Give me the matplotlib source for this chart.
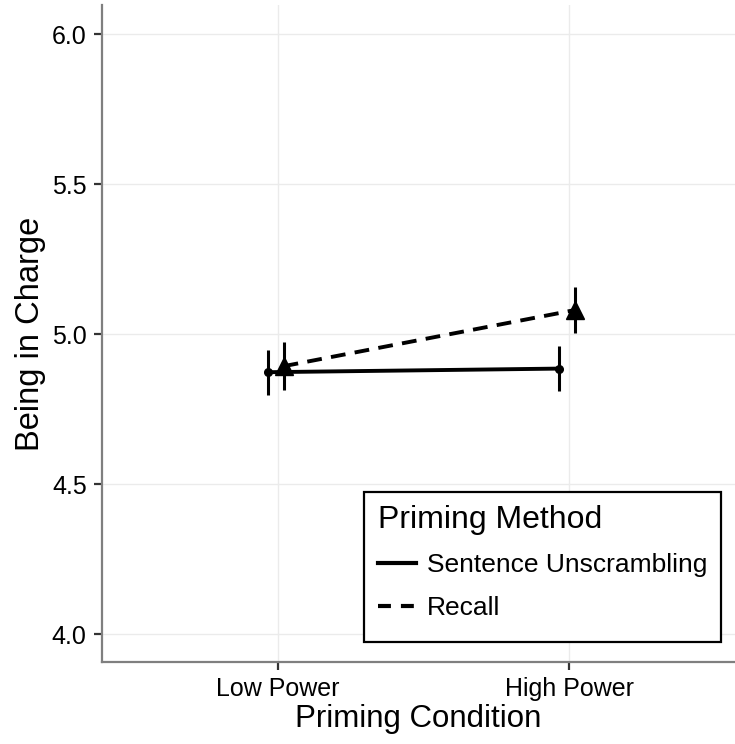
import numpy as np
import matplotlib
matplotlib.use('Agg')
import matplotlib.pyplot as plt
from matplotlib.lines import Line2D
from matplotlib.patches import Rectangle

plt.rcParams['font.family'] = ['Liberation Sans', 'DejaVu Sans']

# ── data ─────────────────────────────────────────────────────────────────────
conditions = ['Low Power', 'High Power']
methods    = ['Sentence Unscrambling', 'Recall']
su_mean    = [4.873, 4.885]
su_err     = [0.075, 0.075]
rc_mean    = [4.893, 5.080]
rc_err     = [0.080, 0.077]
y_ticks    = [4.0, 4.5, 5.0, 5.5, 6.0]

# ── figure ───────────────────────────────────────────────────────────────────
W, H = 735, 744
fig = plt.figure(figsize=(W / 100, H / 100), dpi=100)
ax = fig.add_axes([102 / W, 82 / H, 633 / W, 657 / H])

x = np.arange(1, len(conditions) + 1)
x_su = x - 0.036
x_rc = x + 0.019

ax.errorbar(x_su, su_mean, yerr=su_err, color='black', lw=2.8,
            elinewidth=2.2, capsize=0, marker='o', markersize=5.5,
            zorder=3)
ax.errorbar(x_rc, rc_mean, yerr=rc_err, color='black', lw=2.8,
            elinewidth=2.2, capsize=0, marker='^', markersize=13,
            dashes=(3.8, 2.4), zorder=3)

ax.set_xlim(0.395, 2.57)
ax.set_ylim(3.907, 6.097)
ax.set_xticks(x)
ax.set_xticklabels(conditions)
ax.set_yticks(y_ticks)
ax.set_yticklabels([f'{v:.1f}' for v in y_ticks])

ax.grid(True, color='#ebebeb', lw=1.0)
ax.set_axisbelow(True)
for side in ['top', 'right']:
    ax.spines[side].set_visible(False)
for side in ['left', 'bottom']:
    ax.spines[side].set_color('#7f7f7f')
    ax.spines[side].set_linewidth(1.6)

ax.tick_params(axis='both', labelsize=18, colors='#333333', labelcolor='black',
               width=1.6, length=6, pad=5)

ax.set_xlabel('Priming Condition', fontsize=22.5, labelpad=2)
ax.set_ylabel('Being in Charge', fontsize=23.5, labelpad=4)

# ── legend (frame drawn separately to match the ggplot box) ─────────────────
box = Rectangle((364 / W, 1 - 642 / H), 357 / W, 150 / H,
                transform=fig.transFigure, facecolor='white',
                edgecolor='black', lw=1.6, zorder=4)
fig.add_artist(box)
handles = [Line2D([], [], color='black', lw=3),
           Line2D([], [], color='black', lw=3, dashes=(3.1, 2.4))]
leg = fig.legend(handles, methods, title='Priming Method', loc='upper left',
                 bbox_to_anchor=(370 / W, 1 - 497 / H), fontsize=19,
                 title_fontsize=23, frameon=False,
                 handlelength=1.45, handletextpad=0.42, borderpad=0.3,
                 labelspacing=0.7, alignment='left', borderaxespad=0)
leg.set_zorder(5)

fig.savefig('out.png', dpi=100)
